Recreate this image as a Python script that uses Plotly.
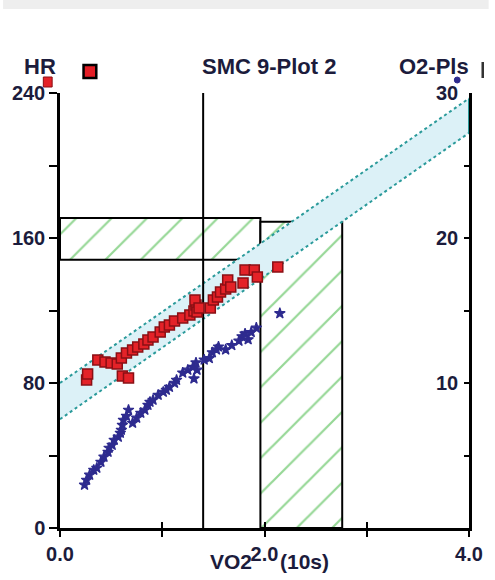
import plotly.graph_objects as go

# ---- data -------------------------------------------------------------
# Heart rate (left axis) against VO2
hr_vo2 = [0.26, 0.27, 0.37, 0.44, 0.50, 0.56, 0.60, 0.61, 0.67, 0.65, 0.71, 0.76,
          0.82, 0.86, 0.91, 0.98, 1.02, 1.07, 1.12, 1.20, 1.27, 1.31, 1.33, 1.34,
          1.32, 1.36, 1.47, 1.50, 1.54, 1.57, 1.62, 1.64, 1.67, 1.79, 1.81, 1.90,
          1.93, 2.13]
hr_val = [81.7, 85.0, 92.7, 91.6, 91.0, 90.5, 93.8, 83.9, 82.8, 96.6, 98.2, 99.9,
          101.5, 103.7, 105.4, 108.1, 110.9, 112.0, 114.2, 115.9, 117.5, 119.7, 123.0, 119.2,
          125.8, 121.4, 121.4, 125.8, 127.4, 130.2, 131.9, 136.8, 133.0, 135.2, 142.3, 142.3,
          138.5, 144.0]

# O2 pulse (right axis) against VO2
o2_vo2 = [0.24, 0.26, 0.29, 0.33, 0.36, 0.40, 0.43, 0.47, 0.48, 0.51, 0.53, 0.57,
          0.59, 0.60, 0.61, 0.62, 0.67, 0.71, 0.65, 0.75, 0.79, 0.83, 0.86, 0.88,
          0.91, 0.96, 1.01, 1.04, 1.07, 1.12, 1.14, 1.20, 1.25, 1.30, 1.33, 1.34,
          1.31, 1.41, 1.46, 1.49, 1.53, 1.55, 1.62, 1.68, 1.75, 1.78, 1.81, 1.84,
          1.87, 1.92, 2.15]
o2_val = [2.97, 3.31, 3.66, 4.00, 4.14, 4.55, 4.90, 5.24, 5.52, 5.72, 6.07, 6.28,
          6.55, 6.76, 7.10, 7.45, 8.14, 7.24, 7.72, 7.59, 7.93, 8.14, 8.48, 8.69,
          8.83, 9.17, 9.38, 9.52, 9.72, 10.0, 10.2, 10.7, 10.9, 11.1, 11.4, 10.9,
          10.3, 11.6, 11.7, 12.1, 12.3, 12.5, 12.3, 12.6, 12.9, 13.2, 13.4, 13.0,
          13.5, 13.8, 14.8]

# Predicted HR corridor
band_x = [0.0, 4.0]
band_lo = [60, 218]
band_hi = [80, 237]

# Threshold zones (VO2 limits, HR limits)
hr_zone_x = [0.0, 1.96]
hr_zone_y = [148, 171]
vo2_zone_x = [1.96, 2.76]
vo2_zone_y = [0, 169]
vt_x = 1.40

x_ticks = [0, 1, 2, 3, 4]
x_labels = ["0.0", "", "2.0", "", "4.0"]
hr_ticks = [0, 40, 80, 120, 160, 200, 240]
hr_labels = ["0", "", "80", "", "160", "", "240"]
o2_ticks = [0, 5, 10, 15, 20, 25, 30]
o2_labels = ["", "", "10", "", "20", "", "30"]

# ---- figure -----------------------------------------------------------
W, H = 495, 580
L, R, T, B = 58, 20, 93, 52
PW, PH = W - L - R, H - T - B

FONT = "Liberation Sans, Arial, sans-serif"
TXT = "#1c1c3c"
GREEN = "#2eb02e"
TEAL = "#2a9a9a"


def px(xpix):
    return (xpix - L) / PW


def py(ypix):
    return (H - B - ypix) / PH


def rect_path(xs, ys):
    return ([xs[0], xs[1], xs[1], xs[0], xs[0]],
            [ys[0], ys[0], ys[1], ys[1], ys[0]])


fig = go.Figure()

hatch = dict(shape="/", fgcolor=GREEN, bgcolor="white", size=25, solidity=0.09)
for zx, zy in [(hr_zone_x, hr_zone_y), (vo2_zone_x, vo2_zone_y)]:
    bx, by = rect_path(zx, zy)
    fig.add_trace(go.Scatter(x=bx, y=by, mode="lines", fill="toself",
                             fillcolor="white", fillpattern=hatch,
                             line=dict(color="black", width=2),
                             hoverinfo="skip"))

# corridor fill
fig.add_trace(go.Scatter(x=band_x + band_x[::-1], y=band_lo + band_hi[::-1],
                         mode="none", fill="toself", fillcolor="#dcf1f7",
                         hoverinfo="skip"))
for yy in (band_lo, band_hi):
    fig.add_trace(go.Scatter(x=band_x, y=yy, mode="lines",
                             line=dict(color=TEAL, width=2, dash="dot"),
                             hoverinfo="skip"))
fig.add_trace(go.Scatter(x=[band_x[1], band_x[1]], y=[band_lo[1], band_hi[1]],
                         mode="lines", line=dict(color=TEAL, width=2),
                         hoverinfo="skip"))

# ventilatory threshold line
fig.add_trace(go.Scatter(x=[vt_x, vt_x], y=[hr_ticks[0], hr_ticks[-1]], mode="lines",
                         line=dict(color="black", width=2), hoverinfo="skip"))

# O2 pulse points (right axis)
fig.add_trace(go.Scatter(x=o2_vo2, y=o2_val, yaxis="y2", mode="markers",
                         marker=dict(symbol="star", size=8, color="#2e2b8f",
                                     line=dict(color="#2e2b8f", width=1.2)),
                         name="O2-Pls"))

# HR points
fig.add_trace(go.Scatter(x=hr_vo2, y=hr_val, mode="markers",
                         marker=dict(symbol="square", size=10, color="#e42228",
                                     line=dict(color="#8a0f14", width=1.5)),
                         name="HR"))

# helper axis for the inward half of the x ticks
fig.add_trace(go.Scatter(x=[None], y=[None], xaxis="x2", showlegend=False))

tick_font = dict(family=FONT, size=20, color=TXT, weight="bold")

fig.update_layout(
    width=W, height=H,
    margin=dict(l=L, r=R, t=T, b=B),
    paper_bgcolor="white", plot_bgcolor="white",
    showlegend=False,
    xaxis=dict(range=[0, 4], tickvals=x_ticks, ticktext=x_labels,
               ticks="outside", ticklen=6, tickwidth=2, tickcolor="black",
               showline=True, linecolor="black", linewidth=2.5,
               showgrid=False, zeroline=False, tickfont=tick_font),
    xaxis2=dict(range=[0, 4], overlaying="x", anchor="y", side="bottom",
                tickvals=x_ticks[1:-1], ticks="inside", ticklen=6, tickwidth=2,
                tickcolor="black", showticklabels=False, showline=False,
                showgrid=False, zeroline=False),
    yaxis=dict(range=[0, 240], tickvals=hr_ticks, ticktext=hr_labels,
               ticks="outside", ticklen=8, tickwidth=2, tickcolor="black",
               showline=True, linecolor="black", linewidth=2.5,
               showgrid=False, zeroline=False, tickfont=tick_font),
    yaxis2=dict(range=[0, 30], overlaying="y", side="right", anchor="x",
                tickvals=o2_ticks, ticks="inside", ticklen=5, tickwidth=2,
                tickcolor="black", showticklabels=False,
                showline=True, linecolor="black", linewidth=2.5,
                showgrid=False, zeroline=False),
)

# right-axis labels sit just inside the axis line
for val, lab in zip(o2_ticks, o2_labels):
    if lab:
        fig.add_annotation(text=lab, x=px(466), y=val, xref="paper", yref="y2",
                           xanchor="right", yanchor="middle", showarrow=False,
                           font=tick_font)

head_font = dict(family=FONT, size=22, color=TXT, weight="bold")
for text, xc in [("HR", 38), ("SMC 9-Plot 2", 271), ("O2-Pls", 439)]:
    fig.add_annotation(text=text, x=px(xc), y=py(66), xref="paper", yref="paper",
                       xanchor="center", yanchor="middle", showarrow=False,
                       font=head_font)

axis_font = dict(family=FONT, size=21, color=TXT, weight="bold")
for text, xc in [("VO2", 232), ("(10s)", 307)]:
    fig.add_annotation(text=text, x=px(xc), y=py(561), xref="paper", yref="paper",
                       xanchor="center", yanchor="middle", showarrow=False,
                       font=axis_font)

# page header strip
fig.add_shape(type="rect", xref="paper", yref="paper",
              x0=px(0), x1=px(W), y0=py(9), y1=py(0),
              fillcolor="#eeeeee", line=dict(width=0), layer="below")

# series keys next to the headings
fig.add_shape(type="rect", xref="paper", yref="paper",
              x0=px(82), x1=px(95), y0=py(78), y1=py(65),
              fillcolor="#e41e26", line=dict(color="black", width=2.5))
fig.add_shape(type="rect", xref="paper", yref="paper",
              x0=px(41), x1=px(50), y0=py(87), y1=py(77),
              fillcolor="#e42228", line=dict(color="#8a0f14", width=1))
fig.add_shape(type="circle", xref="paper", yref="paper",
              x0=px(460), x1=px(466), y0=py(83), y1=py(77),
              fillcolor="#2e2b8f", line=dict(color="#2e2b8f", width=1))
fig.add_shape(type="line", xref="paper", yref="paper",
              x0=px(489), x1=px(489), y0=py(78), y1=py(62),
              line=dict(color="#333333", width=2.5))

fig.write_html("out.html")
